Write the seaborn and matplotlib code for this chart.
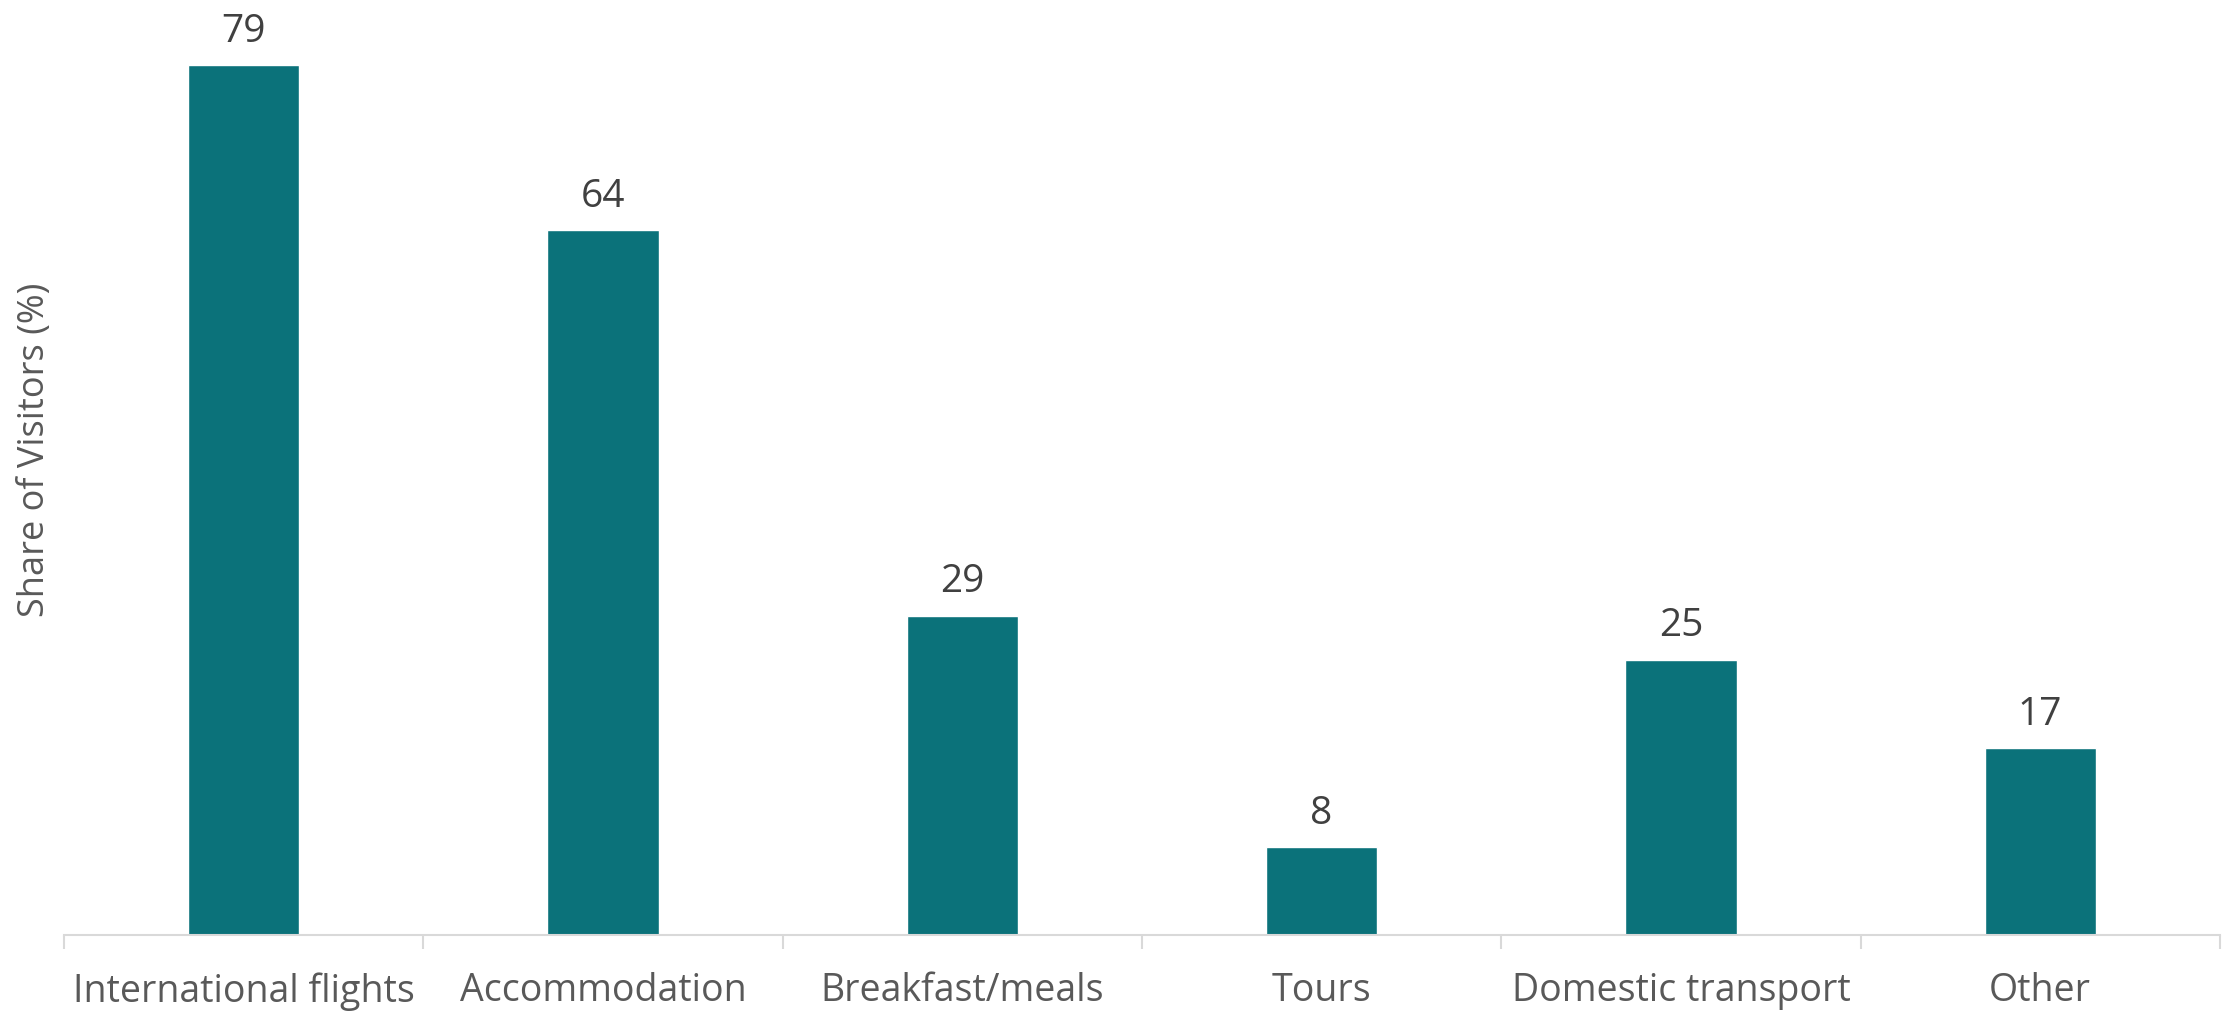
import matplotlib
matplotlib.use("Agg")
import matplotlib.pyplot as plt
import seaborn as sns
import pandas as pd
import numpy as np

categories = ["International flights", "Accommodation", "Breakfast/meals",
              "Tours", "Domestic transport", "Other"]
shares = [79, 64, 29, 8, 25, 17]

df = pd.DataFrame({"category": categories, "share": shares})

sns.set_theme(style="white")
plt.rcParams["font.family"] = ["Open Sans", "DejaVu Sans"]

fig = plt.figure(figsize=(22.31, 10.12), dpi=100)
ax = fig.add_axes([0.0287, 0.075, 0.9663, 0.925])

sns.barplot(data=df, x="category", y="share", color="#0B727A",
            saturation=1, width=0.31, ax=ax)

ax.set_ylim(0, 85)
ax.set_xlim(-0.5, len(categories) - 0.5)

for i, v in enumerate(shares):
    ax.annotate(f"{v}", (i, v), xytext=(0, 11), textcoords="offset points",
                ha="center", va="bottom", fontsize=28, color="#404040")

for side in ["top", "right", "left"]:
    ax.spines[side].set_visible(False)
ax.spines["bottom"].set_color("#D9D9D9")
ax.spines["bottom"].set_linewidth(1.5)

ax.set_yticks([])
ax.set_xlabel("")
ax.set_ylabel("Share of Visitors (%)", fontsize=26, color="#595959")
ax.yaxis.set_label_coords(-0.005, 0.52)
ax.tick_params(axis="x", which="major", bottom=False, length=0, pad=26,
               labelsize=27, labelcolor="#595959")
ax.set_xticks(np.arange(-0.5, len(categories)), minor=True)
ax.tick_params(axis="x", which="minor", bottom=True, length=10, width=1.5,
               color="#D9D9D9")

fig.savefig("out.png", dpi=100)
